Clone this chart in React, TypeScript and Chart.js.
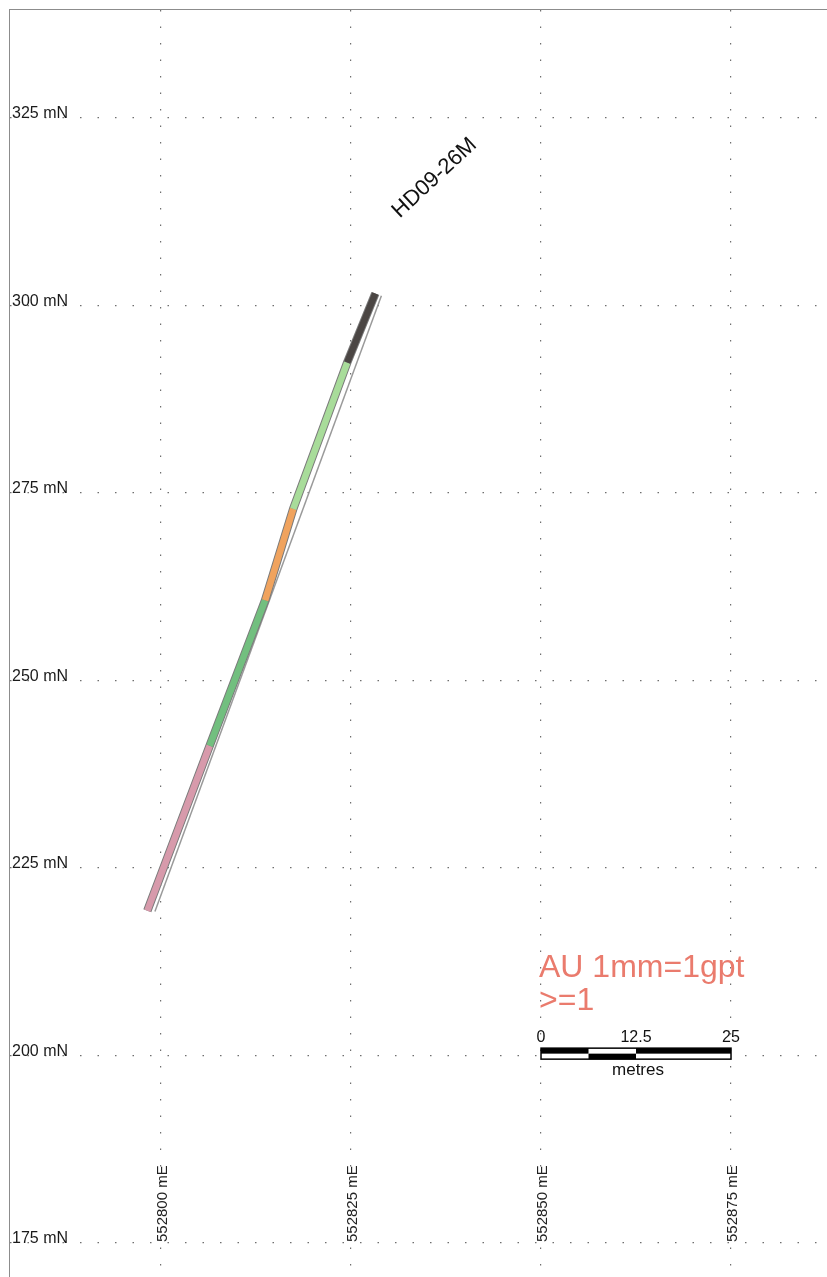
import React, { useEffect, useRef } from "react";
import { Chart, registerables } from "chart.js";

Chart.register(...registerables);

// ---- data ----
const xTicks = [552800, 552825, 552850, 552875];
const yTicks = [175, 200, 225, 250, 275, 300, 325];
const holeName = "HD09-26M";
// drill hole trace, collar to toe (easting, elevation)
const holeX = [552828.2, 552824.5, 552817.4, 552813.7, 552806.4, 552798.2];
const holeY = [301.6, 292.4, 272.9, 260.7, 241.3, 219.3];
const segmentColors = ["#4b4644", "#a8dc9a", "#f0a35e", "#72bf7f", "#d79aab"];
// thin survey line beside the hole
const traceX = [552829.0, 552799.2];
const traceY = [301.3, 219.2];
const legendLines = ["AU 1mm=1gpt", ">=1"];
const scaleBarTicks = [0, 12.5, 25];
const scaleBarStart = 552850;
const scaleBarY = 200.25;
const labelPos = { x: 552836.0, y: 317.0 };

const FONT = "'Liberation Sans', Arial, sans-serif";

const overlayPlugin = {
  id: "overlay",
  afterDatasetsDraw(chart: any) {
    const ctx = chart.ctx;
    const xs = chart.scales.x;
    const ys = chart.scales.y;
    ctx.save();

    // x axis labels (vertical)
    ctx.fillStyle = "#222";
    ctx.font = `15px ${FONT}`;
    const yBottom = ys.getPixelForValue(175) - 1;
    xTicks.forEach((v) => {
      const px = xs.getPixelForValue(v) + 2;
      ctx.save();
      ctx.translate(px, yBottom);
      ctx.rotate(-Math.PI / 2);
      ctx.textAlign = "left";
      ctx.textBaseline = "middle";
      ctx.fillText(`${v} mE`, 0, 0);
      ctx.restore();
    });

    // hole label
    ctx.save();
    ctx.translate(xs.getPixelForValue(labelPos.x), ys.getPixelForValue(labelPos.y));
    ctx.rotate((-43 * Math.PI) / 180);
    ctx.font = `22px ${FONT}`;
    ctx.fillStyle = "#111";
    ctx.textAlign = "center";
    ctx.textBaseline = "middle";
    ctx.fillText(holeName, 0, 0);
    ctx.restore();

    // legend text
    const x0 = xs.getPixelForValue(scaleBarStart);
    const x1 = xs.getPixelForValue(scaleBarStart + scaleBarTicks[scaleBarTicks.length - 1]);
    const y200 = ys.getPixelForValue(200);
    ctx.fillStyle = "#ea7b6d";
    ctx.font = `32px ${FONT}`;
    ctx.textAlign = "left";
    ctx.textBaseline = "alphabetic";
    ctx.fillText(legendLines[0], x0 - 2, y200 - 79);
    ctx.fillText(legendLines[1], x0 - 2, y200 - 46);

    // scale bar
    const yc = ys.getPixelForValue(scaleBarY);
    const h = 11;
    const top = yc - h / 2;
    const mid = yc;
    const q = xs.getPixelForValue(scaleBarStart + scaleBarTicks[1] / 2);
    const m = xs.getPixelForValue(scaleBarStart + scaleBarTicks[1]);
    ctx.fillStyle = "#fff";
    ctx.fillRect(x0, top, x1 - x0, h);
    ctx.fillStyle = "#000";
    ctx.fillRect(x0, top, q - x0, h / 2);
    ctx.fillRect(m, top, x1 - m, h / 2);
    ctx.fillRect(q, mid, m - q, h / 2);
    ctx.strokeStyle = "#000";
    ctx.lineWidth = 1.5;
    ctx.strokeRect(x0, top, x1 - x0, h);

    ctx.fillStyle = "#111";
    ctx.font = `16px ${FONT}`;
    ctx.textAlign = "center";
    scaleBarTicks.forEach((t) => {
      ctx.fillText(String(t), xs.getPixelForValue(scaleBarStart + t), top - 6);
    });
    ctx.font = `17px ${FONT}`;
    ctx.fillText("metres", (x0 + x1) / 2 + 2, top + h + 16);

    ctx.restore();
  },
};

export default function App() {
  const ref = useRef<HTMLCanvasElement>(null);

  useEffect(() => {
    const holePoints = holeX.map((x, i) => ({ x, y: holeY[i] }));
    const segments = segmentColors.map((c, i) => ({
      data: [holePoints[i], holePoints[i + 1]],
      borderColor: c,
      borderWidth: 6.5,
      showLine: true,
      pointRadius: 0,
      order: 1,
    }));
    const chart = new Chart(ref.current!, {
      type: "scatter",
      data: {
        datasets: [
          {
            data: traceX.map((x, i) => ({ x, y: traceY[i] })),
            borderColor: "#9a9a9a",
            borderWidth: 1.5,
            showLine: true,
            pointRadius: 0,
            order: 3,
          },
          {
            data: holePoints,
            borderColor: "#7a7a7a",
            borderWidth: 8.5,
            showLine: true,
            pointRadius: 0,
            order: 2,
          },
          ...segments,
        ],
      },
      options: {
        animation: false,
        responsive: false,
        devicePixelRatio: 1,
        layout: { padding: 0 },
        plugins: { legend: { display: false }, tooltip: { enabled: false } },
        scales: {
          x: {
            type: "linear",
            min: 552780.13,
            max: 552887.63,
            afterBuildTicks: (s: any) => {
              s.ticks = xTicks.map((v) => ({ value: v }));
            },
            afterFit: (s: any) => {
              s.height = 0;
              s.paddingLeft = 0;
              s.paddingRight = 0;
              s.paddingTop = 0;
              s.paddingBottom = 0;
            },
            ticks: { display: false },
            grid: { color: "#6f6f6f", lineWidth: 1.2, drawTicks: false },
            border: { display: false, dash: [1.5, 15] },
          },
          y: {
            type: "linear",
            min: 170.47,
            max: 339.4,
            afterBuildTicks: (s: any) => {
              s.ticks = yTicks.map((v) => ({ value: v }));
            },
            afterFit: (s: any) => {
              s.width = 0;
              s.paddingTop = 0;
              s.paddingBottom = 0;
              s.paddingLeft = 0;
              s.paddingRight = 0;
            },
            ticks: {
              mirror: true,
              padding: 2,
              labelOffset: -4,
              color: "#1a1a1a",
              font: { family: FONT, size: 16 },
              callback: (v: any) => `${v} mN`,
            },
            grid: { color: "#6f6f6f", lineWidth: 1.2, drawTicks: false },
            border: { display: false, dash: [1.5, 16] },
          },
        },
      },
      plugins: [overlayPlugin],
    });
    return () => chart.destroy();
  }, []);

  return (
    <div
      style={{
        position: "fixed",
        left: 9,
        top: 9,
        width: 818,
        height: 1268,
        borderLeft: "1px solid #8c8c8c",
        borderTop: "1px solid #8c8c8c",
        background: "#fff",
      }}
    >
      <canvas ref={ref} width={817} height={1267} style={{ display: "block" }} />
    </div>
  );
}
